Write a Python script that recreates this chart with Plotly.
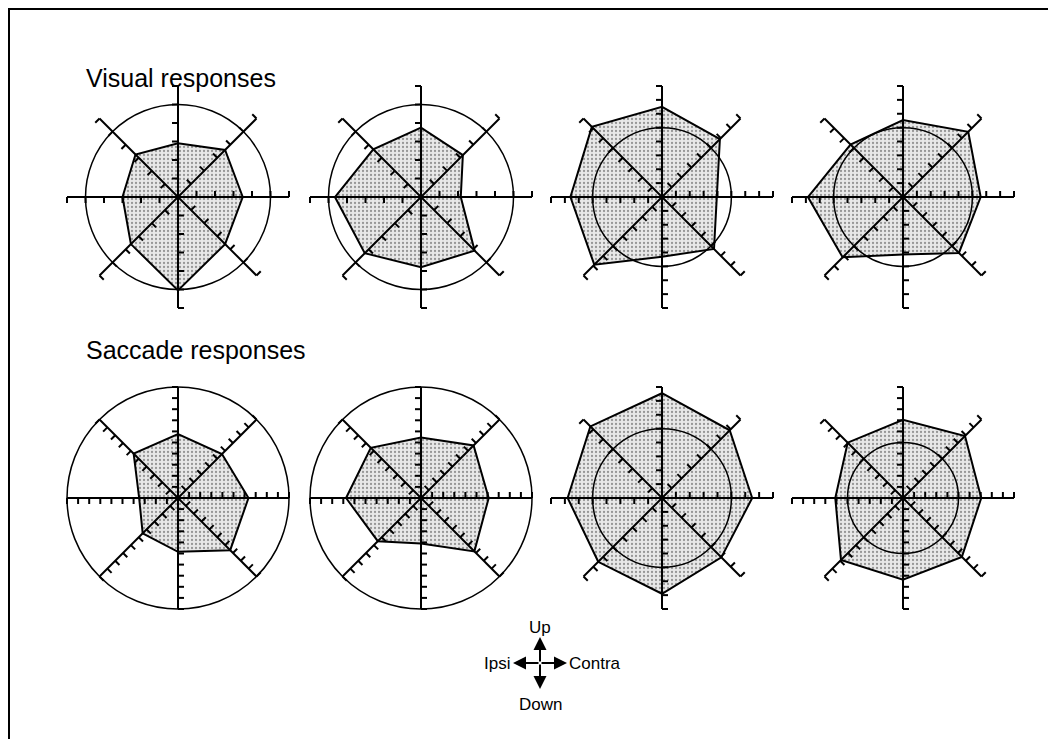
import numpy as np
import plotly.graph_objects as go

# directions of the 8 targets, degrees (0 = contra, 90 = up)
directions = [0, 45, 90, 135, 180, 225, 270, 315]

# response magnitude per direction, one list per cell
visual_resp = [
    [3.5, 3.6, 2.9, 3.25, 3.0, 3.6, 5.05, 3.6],
    [2.15, 3.2, 3.75, 3.65, 4.65, 4.3, 3.8, 4.1],
    [3.95, 5.9, 6.5, 7.15, 6.6, 6.9, 4.3, 5.3],
    [5.6, 6.65, 5.55, 5.35, 6.85, 6.15, 4.15, 5.7],
]
saccade_resp = [
    [6.35, 5.6, 5.75, 5.65, 3.5, 4.5, 4.85, 6.65],
    [6.1, 6.7, 5.45, 6.4, 6.75, 5.5, 4.1, 6.8],
    [6.5, 6.9, 7.55, 7.3, 6.8, 6.5, 6.9, 6.05],
    [7.05, 7.9, 7.05, 7.05, 6.1, 7.9, 7.35, 7.5],
]
# full scale of each cell's axes and the reference circle level
visual_axis = [6, 6, 8, 8]
saccade_axis = [10, 10, 8, 10]
visual_circle = [5, 5, 5, 5]
saccade_circle = [10, 10, 5, 5]

# page has an 8px body margin, so work in page px and shift into the figure
OFF = 8
W, H = 1056 - OFF, 739 - OFF
col_x = [178, 421, 662, 903]
row_y = [197, 498]
half = 120      # half size of each cell, px
axis_px = 111   # drawn length of an axis ray, px
tick_px = 6


def px(x):
    return (x - OFF) / W


def py(y):
    return 1 - (y - OFF) / H


cells = []
for c in range(4):
    cells.append((visual_resp[c], visual_axis[c], visual_circle[c], col_x[c], row_y[0]))
for c in range(4):
    cells.append((saccade_resp[c], saccade_axis[c], saccade_circle[c], col_x[c], row_y[1]))

fig = go.Figure()
shapes = []
layout_axes = {}
th = np.radians(directions)

for i, (resp, L, circ, cx, cy) in enumerate(cells):
    n = '' if i == 0 else str(i + 1)
    ppu = axis_px / L
    rng = half / ppu
    layout_axes['xaxis' + n] = dict(domain=[px(cx - half), px(cx + half)],
                                    range=[-rng, rng], visible=False, fixedrange=True)
    layout_axes['yaxis' + n] = dict(domain=[py(cy + half), py(cy - half)],
                                    range=[-rng, rng], visible=False, fixedrange=True)
    xr, yr = 'x' + n, 'y' + n

    r = np.array(resp + resp[:1])
    t = np.append(th, th[0])
    fig.add_trace(go.Scatter(
        x=r * np.cos(t), y=r * np.sin(t), xaxis=xr, yaxis=yr,
        mode='lines', fill='toself', line=dict(color='black', width=2),
        fillcolor='#dcdcdc',
        fillpattern=dict(shape='.', fgcolor='#444', bgcolor='#e8e8e8', size=4, solidity=0.25),
        hoverinfo='skip', showlegend=False))

    # axes with ticks on the counter-clockwise side of each ray
    tl = tick_px / ppu
    ax_x, ax_y = [], []
    for a in th[:4]:
        ax_x += [-L * np.cos(a), L * np.cos(a), None]
        ax_y += [-L * np.sin(a), L * np.sin(a), None]
    for a in th:
        ux, uy = np.cos(a), np.sin(a)
        nx, ny = -uy, ux
        for k in range(1, L + 1):
            ax_x += [k * ux, k * ux + nx * tl, None]
            ax_y += [k * uy, k * uy + ny * tl, None]
    fig.add_trace(go.Scatter(x=ax_x, y=ax_y, xaxis=xr, yaxis=yr, mode='lines',
                             line=dict(color='black', width=2),
                             hoverinfo='skip', showlegend=False))

    shapes.append(dict(type='circle', xref=xr, yref=yr, x0=-circ, y0=-circ,
                       x1=circ, y1=circ, line=dict(color='black', width=1.5)))

# frame (left and top)
shapes.append(dict(type='line', xref='paper', yref='paper', x0=1 / W, x1=1 / W,
                   y0=0, y1=1, line=dict(color='black', width=2)))
shapes.append(dict(type='line', xref='paper', yref='paper', x0=0, x1=1,
                   y0=1 - 1 / H, y1=1 - 1 / H, line=dict(color='black', width=2)))

font = dict(family='Liberation Sans, Arial, sans-serif', color='black')
ann = [
    dict(text='Visual responses', x=px(84), y=py(78), xanchor='left', yanchor='middle',
         font=dict(size=25, **font)),
    dict(text='Saccade responses', x=px(84), y=py(350), xanchor='left', yanchor='middle',
         font=dict(size=25, **font)),
    dict(text='Up', x=px(540), y=py(627), xanchor='center', yanchor='middle',
         font=dict(size=17, **font)),
    dict(text='Down', x=px(541), y=py(704), xanchor='center', yanchor='middle',
         font=dict(size=17, **font)),
    dict(text='Ipsi', x=px(512), y=py(663), xanchor='right', yanchor='middle',
         font=dict(size=17, **font)),
    dict(text='Contra', x=px(567), y=py(663), xanchor='left', yanchor='middle',
         font=dict(size=17, **font)),
]
# legend cross arrows
cx0, cy0 = 540, 663
for dx, dy in [(27, 0), (-27, 0), (0, -26), (0, 26)]:
    ann.append(dict(text='', x=px(cx0 + dx), y=py(cy0 + dy), ax=-dx, ay=-dy,
                    showarrow=True, arrowhead=2, arrowsize=1.3, arrowwidth=2,
                    arrowcolor='black', standoff=0, startstandoff=0))
for a in ann:
    a.setdefault('xref', 'paper')
    a.setdefault('yref', 'paper')
    a.setdefault('showarrow', False)

fig.update_layout(width=W, height=H, margin=dict(l=0, r=0, t=0, b=0),
                  paper_bgcolor='white', plot_bgcolor='rgba(0,0,0,0)',
                  shapes=shapes, annotations=ann, **layout_axes)

fig.write_html("out.html")
